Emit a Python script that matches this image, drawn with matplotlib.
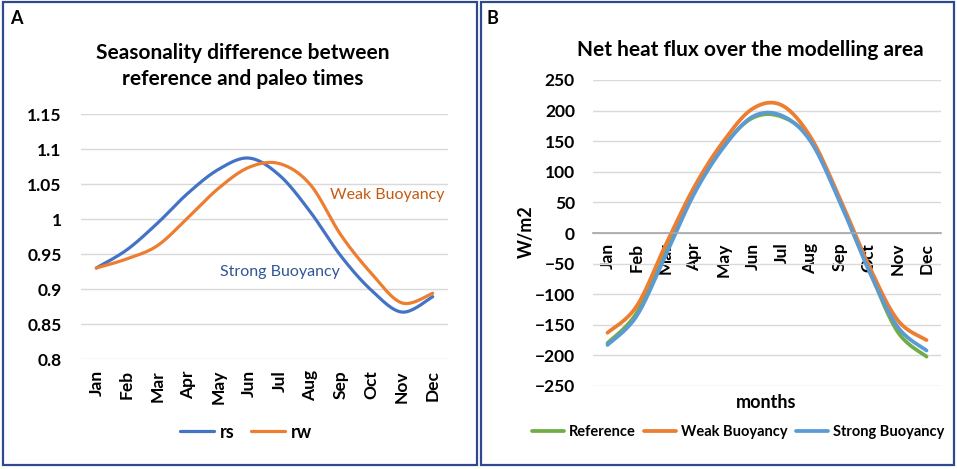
import numpy as np
import matplotlib
matplotlib.use('Agg')
from matplotlib import pyplot as plt
from matplotlib.patches import Rectangle

plt.rcParams['font.family'] = ['Lato', 'DejaVu Sans']

months = ['Jan', 'Feb', 'Mar', 'Apr', 'May', 'Jun',
          'Jul', 'Aug', 'Sep', 'Oct', 'Nov', 'Dec']

# panel A: seasonality ratio
rs = [0.930, 0.956, 0.994, 1.037, 1.071, 1.087, 1.062, 1.010, 0.947, 0.898, 0.867, 0.889]
rw = [0.930, 0.943, 0.962, 1.002, 1.044, 1.074, 1.079, 1.049, 0.977, 0.922, 0.880, 0.894]

# panel B: net heat flux (W/m2)
reference = [-180, -131, -30, 68, 142, 188, 190, 153, 55, -58, -161, -202]
weak = [-163, -120, -20, 76, 150, 203, 209, 157, 58, -52, -142, -175]
strong = [-183, -136, -37, 65, 140, 190, 192, 150, 52, -60, -153, -192]

W, H = 957, 469


def smooth(y, n=30):
    # bezier smoothing like spreadsheet "smoothed line"
    y = np.asarray(y, dtype=float)
    x = np.arange(len(y), dtype=float)
    px = np.concatenate([[x[0]], x, [x[-1]]])
    py = np.concatenate([[y[0]], y, [y[-1]]])
    xs, ys = [], []
    t = np.linspace(0, 1, n)
    for i in range(len(y) - 1):
        p0 = np.array([px[i + 1], py[i + 1]])
        p3 = np.array([px[i + 2], py[i + 2]])
        c1 = p0 + (np.array([px[i + 2], py[i + 2]]) - np.array([px[i], py[i]])) / 6
        c2 = p3 - (np.array([px[i + 3], py[i + 3]]) - np.array([px[i + 1], py[i + 1]])) / 6
        b = ((1 - t) ** 3)[:, None] * p0 + (3 * (1 - t) ** 2 * t)[:, None] * c1 \
            + (3 * (1 - t) * t ** 2)[:, None] * c2 + (t ** 3)[:, None] * p3
        xs.append(b[:, 0])
        ys.append(b[:, 1])
    return np.concatenate(xs), np.concatenate(ys)


def fx(px):
    return px / W


def fy(py):
    return 1 - py / H


fig = plt.figure(figsize=(W / 100, H / 100), dpi=100)

# ---- panel A ----
axa = fig.add_axes([fx(81), fy(359), fx(448) - fx(81), fy(114) - fy(359)])
c_rs, c_rw = '#4472C4', '#ED7D31'
x, y = smooth(rs)
axa.plot(x, y, color=c_rs, lw=2.3, label='rs', solid_capstyle='round')
x, y = smooth(rw)
axa.plot(x, y, color=c_rw, lw=2.3, label='rw', solid_capstyle='round')
axa.set_xlim(-0.5, 11.5)
axa.set_ylim(0.8, 1.15)
axa.set_yticks(np.arange(0.8, 1.151, 0.05))
axa.set_yticklabels(['0.8', '0.85', '0.9', '0.95', '1', '1.05', '1.1', '1.15'])
axa.set_xticks(range(12))
axa.set_xticklabels(months, rotation=90)
axa.grid(axis='y', color='#D9D9D9', lw=1)
axa.set_axisbelow(True)
for s in axa.spines.values():
    s.set_visible(False)
axa.tick_params(length=0, labelsize=12.5, pad=8)
axa.tick_params(axis='y', pad=14)
for lab in axa.get_xticklabels() + axa.get_yticklabels():
    lab.set_fontweight('bold')
fig.text(fx(243), fy(66), 'Seasonality difference between\nreference and paleo times',
         ha='center', va='center', fontsize=15, fontweight='bold', linespacing=1.4)
fig.text(fx(330), fy(195), 'Weak Buoyancy', color='#C55A11', fontsize=11.5, va='center')
fig.text(fx(220), fy(272), 'Strong Buoyancy', color='#2F5597', fontsize=11.5, va='center')
fig.text(fx(10), fy(18), 'A', fontsize=13, fontweight='bold', va='center')
axa.legend(loc='center', bbox_to_anchor=(fx(246), fy(432)), bbox_transform=fig.transFigure,
           ncol=2, frameon=False, handlelength=1.9, columnspacing=0.9, handletextpad=0.3,
           prop={'weight': 'bold', 'size': 13})

# ---- panel B ----
axb = fig.add_axes([fx(593), fy(386), fx(941) - fx(593), fy(80) - fy(386)])
c_ref, c_weak, c_strong = '#70AD47', '#ED7D31', '#5B9BD5'
for vals, col, lab in ((reference, c_ref, 'Reference'),
                       (weak, c_weak, 'Weak Buoyancy'),
                       (strong, c_strong, 'Strong Buoyancy')):
    x, y = smooth(vals)
    axb.plot(x, y, color=col, lw=2.7, label=lab, solid_capstyle='round')
axb.set_xlim(-0.5, 11.5)
axb.set_ylim(-250, 250)
for k in ('top', 'right', 'left'):
    axb.spines[k].set_visible(False)
axb.spines['bottom'].set_position(('data', 0))
axb.spines['bottom'].set_color('#A6A6A6')
axb.spines['bottom'].set_linewidth(1.2)
axb.set_yticks(range(-250, 251, 50))
axb.set_xticks(range(12))
axb.set_xticklabels(months, rotation=90, va='top')
axb.grid(axis='y', color='#D9D9D9', lw=1)
axb.set_axisbelow(True)
axb.tick_params(length=0, labelsize=12.5, pad=7)
axb.tick_params(axis='y', pad=13)
for lab in axb.get_xticklabels() + axb.get_yticklabels():
    lab.set_fontweight('bold')
fig.text(fx(750), fy(50), 'Net heat flux over the modelling area',
         ha='center', va='center', fontsize=15, fontweight='bold')
fig.text(fx(526), fy(232), 'W/m2', rotation=90, ha='center', va='center',
         fontsize=13, fontweight='bold')
fig.text(fx(766), fy(402), 'months', ha='center', va='center', fontsize=13, fontweight='bold')
fig.text(fx(486), fy(18), 'B', fontsize=13, fontweight='bold', va='center')
axb.legend(loc='center', bbox_to_anchor=(fx(738), fy(432)), bbox_transform=fig.transFigure,
           ncol=3, frameon=False, handlelength=2.2, columnspacing=0.6, handletextpad=0.3,
           prop={'weight': 'bold', 'size': 10.5})

# panel frames
for x0, x1 in ((3, 477), (481, 954)):
    fig.patches.append(Rectangle((fx(x0), fy(465)), fx(x1) - fx(x0), fy(2) - fy(465),
                                 transform=fig.transFigure, fill=False,
                                 edgecolor='#2E4A8C', lw=1.6))

fig.savefig('out.png', dpi=100)
